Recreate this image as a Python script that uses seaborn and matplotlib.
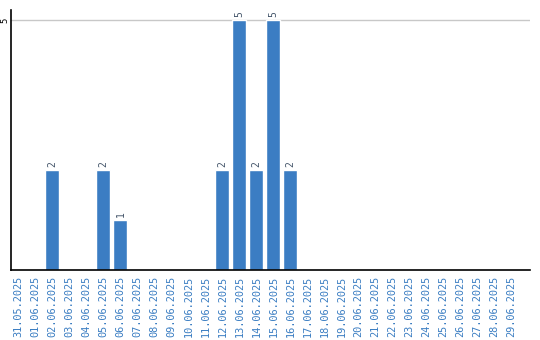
import matplotlib
matplotlib.use("Agg")
import matplotlib.pyplot as plt
import seaborn as sns
import pandas as pd

dates = ["31.05.2025", "01.06.2025", "02.06.2025", "03.06.2025", "04.06.2025",
         "05.06.2025", "06.06.2025", "07.06.2025", "08.06.2025", "09.06.2025",
         "10.06.2025", "11.06.2025", "12.06.2025", "13.06.2025", "14.06.2025",
         "15.06.2025", "16.06.2025", "17.06.2025", "18.06.2025", "19.06.2025",
         "20.06.2025", "21.06.2025", "22.06.2025", "23.06.2025", "24.06.2025",
         "25.06.2025", "26.06.2025", "27.06.2025", "28.06.2025", "29.06.2025"]
counts = [0, 0, 2, 0, 0, 2, 1, 0, 0, 0, 0, 0, 2, 5, 2, 5, 2,
          0, 0, 0, 0, 0, 0, 0, 0, 0, 0, 0, 0, 0]
y_ticks = [5]

df = pd.DataFrame({"date": dates, "count": counts})

sns.set_style("white")
plt.rcParams['font.family'] = ['DejaVu Sans Mono', 'DejaVu Sans']

fig = plt.figure(figsize=(5.4, 3.4), dpi=100)
ax = fig.add_axes([11 / 540, 70 / 340, (530 - 11) / 540, 260 / 340])

bar_color = "#3b7dc3"
sns.barplot(data=df, x="date", y="count", color=bar_color, saturation=1,
            width=0.82, ax=ax, order=dates)

ax.set_ylim(0, 5.2)
ax.set_xlim(-0.44, 30.1)
ax.set_yticks(y_ticks)
ax.set_yticklabels([str(t) for t in y_ticks], rotation=90, va="center",
                   fontsize=6.5, color="black")
ax.tick_params(axis="y", length=0, pad=1)
ax.tick_params(axis="x", length=0, pad=4)
ax.set_xticks(range(len(dates)))
ax.set_xticklabels(dates, rotation=90, fontsize=7.4, color="#3a7dc2")
ax.yaxis.grid(True, color="#c8c8c8", linewidth=1)
ax.set_axisbelow(True)
ax.set_xlabel("")
ax.set_ylabel("")

for s in ["top", "right"]:
    ax.spines[s].set_visible(False)
for s in ["left", "bottom"]:
    ax.spines[s].set_visible(True)
    ax.spines[s].set_color("black")
    ax.spines[s].set_linewidth(1.2)

for i, v in enumerate(counts):
    if v > 0:
        ax.annotate(str(v), (i, v), xytext=(0, 2), textcoords="offset points",
                    rotation=90, ha="center", va="bottom", fontsize=7,
                    color="#44556a")

fig.savefig("out.png", dpi=100)
